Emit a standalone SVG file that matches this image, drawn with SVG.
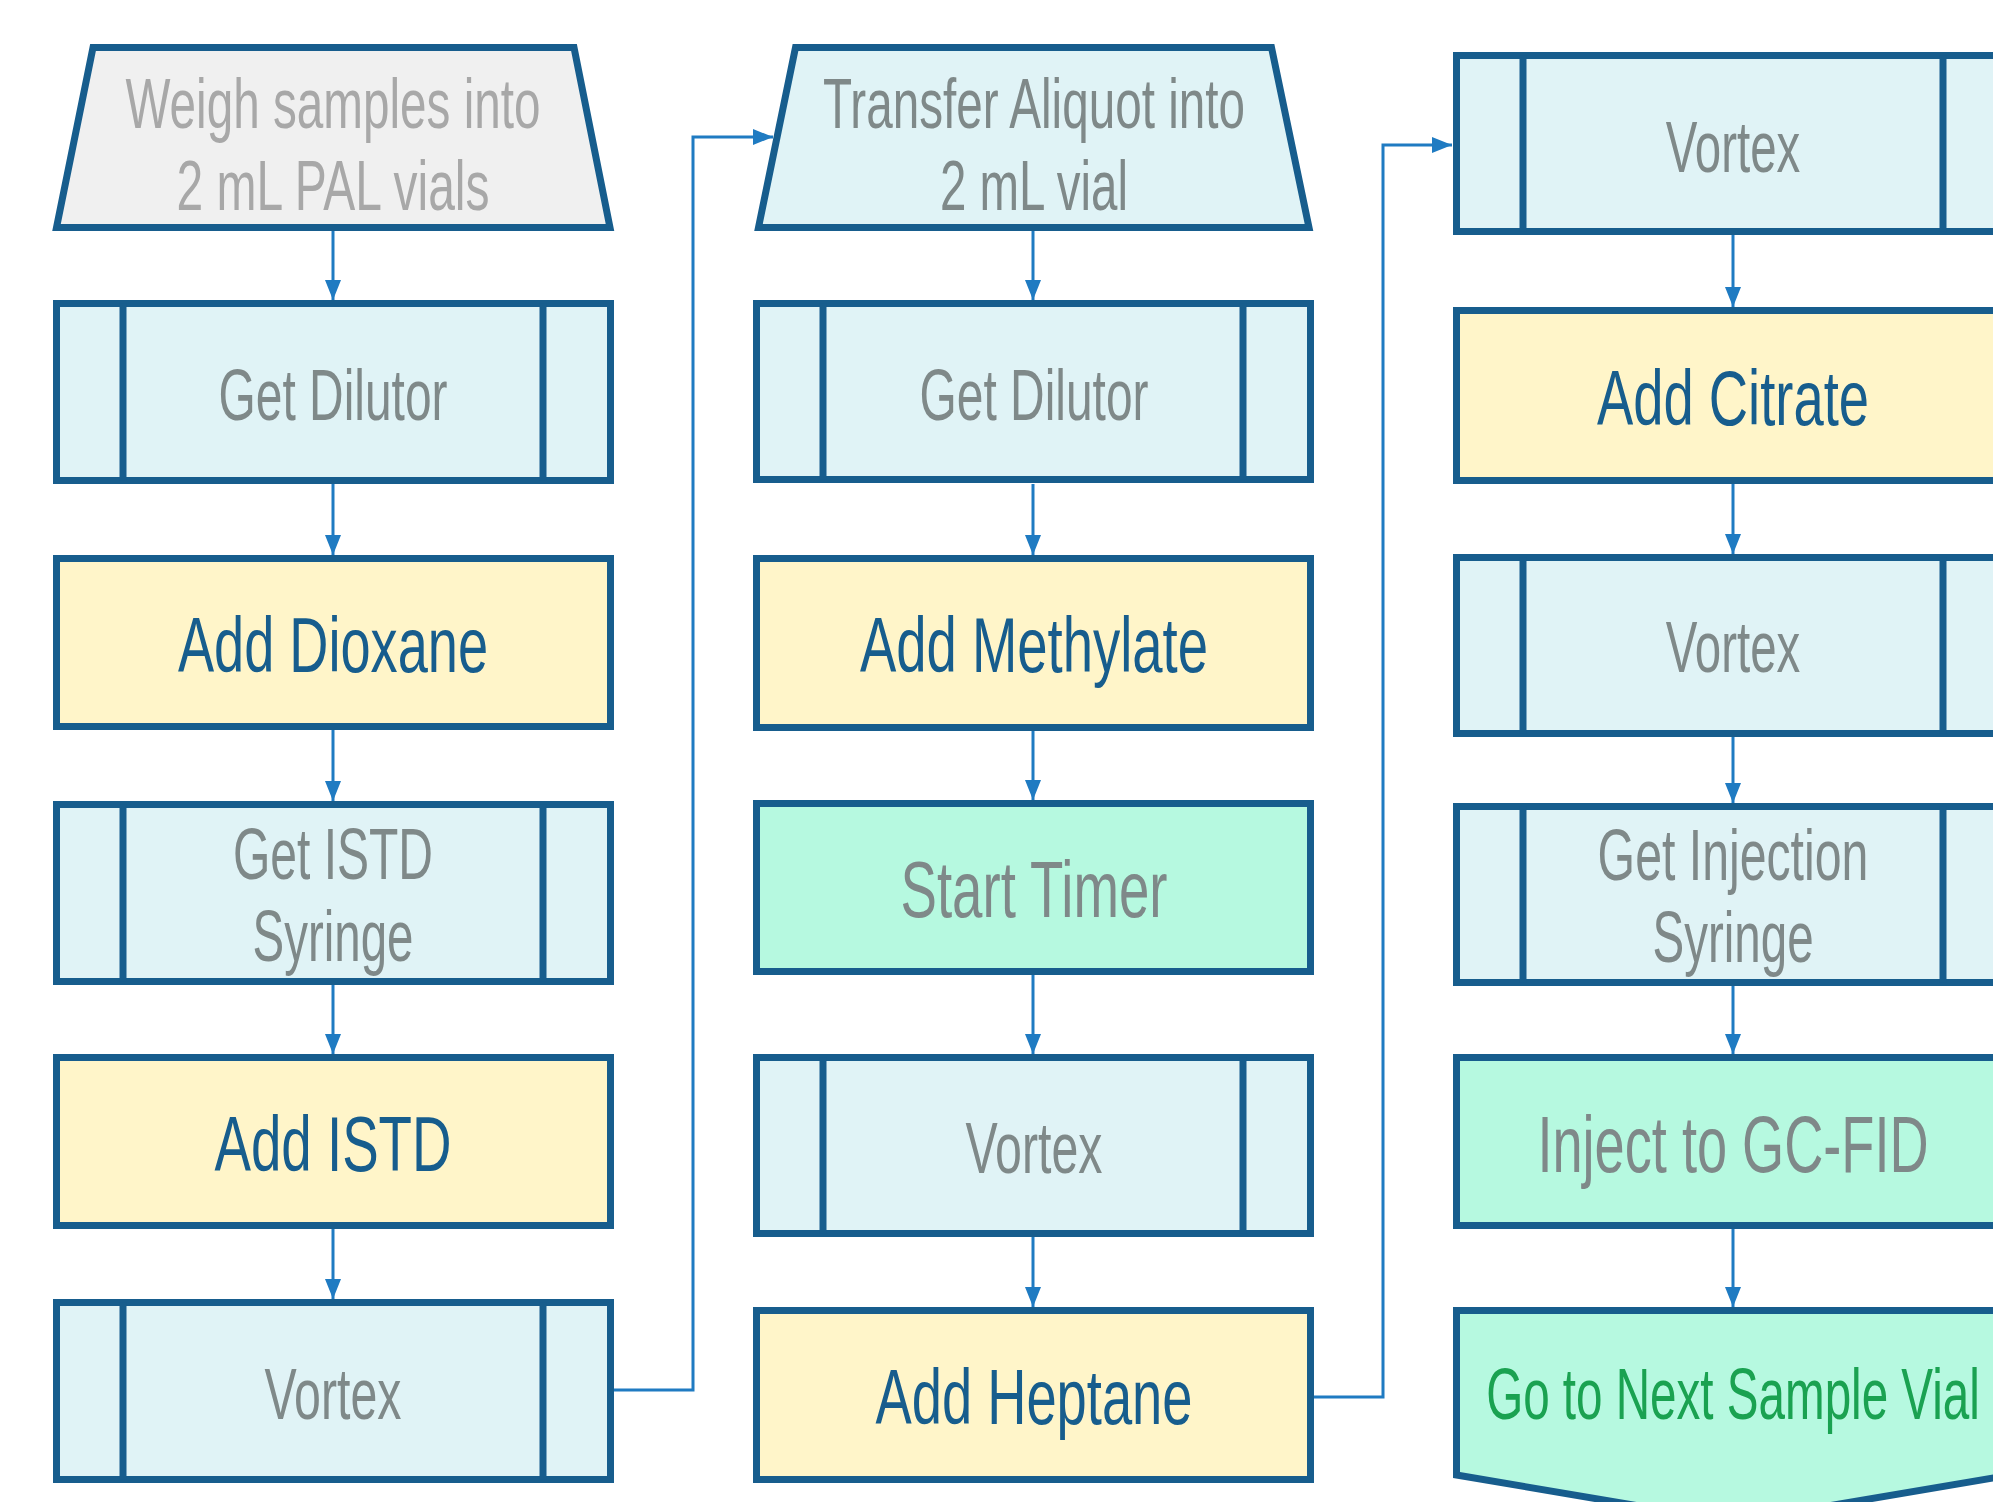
<svg xmlns="http://www.w3.org/2000/svg" width="1993" height="1502" viewBox="0 0 1993 1502">
<defs>
<style>
.box{stroke:#175d8d;stroke-width:7;stroke-linejoin:miter}
.sub{fill:#e0f3f6}
.proc{fill:#fff5c9}
.mint{fill:#b6f9e0}
.gray{fill:#f0f0f0}
.div{stroke:#175d8d;stroke-width:7;fill:none}
.conn{stroke:#1f7bc2;stroke-width:3;fill:none}
text{font-family:"Liberation Sans",Arial,sans-serif;text-anchor:middle}
.tg{fill:#7f8989;font-size:72px}
.tl{fill:#a8a8a8;font-size:70px}
.tt{fill:#7f8989;font-size:70px}
.ty{fill:#175d8d;font-size:78px}
.tm{fill:#7f8989;font-size:80px}
.tn{fill:#1aa251;font-size:72px}
</style>
<marker id="ah" viewBox="0 0 20 16" refX="20" refY="8" markerWidth="20" markerHeight="16" markerUnits="userSpaceOnUse" orient="auto">
<path d="M0,0 L20,8 L0,16 Z" fill="#1f7bc2"/>
</marker>
</defs>
<rect width="1993" height="1502" fill="#ffffff"/>

<g id="connectors">
<path class="conn" d="M333,231 V300" marker-end="url(#ah)"/>
<path class="conn" d="M333,484 V555" marker-end="url(#ah)"/>
<path class="conn" d="M333,730 V801" marker-end="url(#ah)"/>
<path class="conn" d="M333,985 V1054" marker-end="url(#ah)"/>
<path class="conn" d="M333,1229 V1299" marker-end="url(#ah)"/>
<path class="conn" d="M613,1390 H693 V137 H773" marker-end="url(#ah)"/>
<path class="conn" d="M1033,231 V300" marker-end="url(#ah)"/>
<path class="conn" d="M1033,484 V555" marker-end="url(#ah)"/>
<path class="conn" d="M1033,731 V800" marker-end="url(#ah)"/>
<path class="conn" d="M1033,975 V1054" marker-end="url(#ah)"/>
<path class="conn" d="M1033,1237 V1307" marker-end="url(#ah)"/>
<path class="conn" d="M1313,1397 H1383 V145 H1452" marker-end="url(#ah)"/>
<path class="conn" d="M1733,235 V307" marker-end="url(#ah)"/>
<path class="conn" d="M1733,484 V554" marker-end="url(#ah)"/>
<path class="conn" d="M1733,737 V803" marker-end="url(#ah)"/>
<path class="conn" d="M1733,986 V1054" marker-end="url(#ah)"/>
<path class="conn" d="M1733,1229 V1307" marker-end="url(#ah)"/>
</g>

<!-- Column 1 -->
<g id="weigh">
<polygon class="box gray" points="93,47.5 574,47.5 610,227.5 56.5,227.5"/>
<text class="tl" x="333" y="128" textLength="415" lengthAdjust="spacingAndGlyphs">Weigh samples into</text>
<text class="tl" x="333" y="210" textLength="313" lengthAdjust="spacingAndGlyphs">2 mL PAL vials</text>
</g>
<g id="get-dilutor-1">
<rect class="box sub" x="56.5" y="303.5" width="554" height="177"/>
<path class="div" d="M123,303.5 V480.5 M543,303.5 V480.5"/>
<text class="tg" x="333" y="420" textLength="229" lengthAdjust="spacingAndGlyphs">Get Dilutor</text>
</g>
<g id="add-dioxane">
<rect class="box proc" x="56.5" y="558.5" width="554" height="168"/>
<text class="ty" x="333" y="672" textLength="310" lengthAdjust="spacingAndGlyphs">Add Dioxane</text>
</g>
<g id="get-istd-syringe">
<rect class="box sub" x="56.5" y="804.5" width="554" height="177"/>
<path class="div" d="M123,804.5 V981.5 M543,804.5 V981.5"/>
<text class="tg" x="333" y="879" textLength="200" lengthAdjust="spacingAndGlyphs">Get ISTD</text>
<text class="tg" x="333" y="961" textLength="161" lengthAdjust="spacingAndGlyphs">Syringe</text>
</g>
<g id="add-istd">
<rect class="box proc" x="56.5" y="1057.5" width="554" height="168"/>
<text class="ty" x="333" y="1171" textLength="237" lengthAdjust="spacingAndGlyphs">Add ISTD</text>
</g>
<g id="vortex-1">
<rect class="box sub" x="56.5" y="1302.5" width="554" height="177"/>
<path class="div" d="M123,1302.5 V1479.5 M543,1302.5 V1479.5"/>
<text class="tg" x="333" y="1419" textLength="137" lengthAdjust="spacingAndGlyphs">Vortex</text>
</g>

<!-- Column 2 -->
<g id="transfer">
<polygon class="box sub" points="795.5,47.5 1271.5,47.5 1309,227.5 758.5,227.5"/>
<text class="tt" x="1034" y="128" textLength="422" lengthAdjust="spacingAndGlyphs">Transfer Aliquot into</text>
<text class="tt" x="1034" y="210" textLength="188" lengthAdjust="spacingAndGlyphs">2 mL vial</text>
</g>
<g id="get-dilutor-2">
<rect class="box sub" x="756.5" y="303.5" width="554" height="176"/>
<path class="div" d="M823,303.5 V479.5 M1243,303.5 V479.5"/>
<text class="tg" x="1034" y="420" textLength="229" lengthAdjust="spacingAndGlyphs">Get Dilutor</text>
</g>
<g id="add-methylate">
<rect class="box proc" x="756.5" y="558.5" width="554" height="169"/>
<text class="ty" x="1034" y="672" textLength="348" lengthAdjust="spacingAndGlyphs">Add Methylate</text>
</g>
<g id="start-timer">
<rect class="box mint" x="756.5" y="803.5" width="554" height="168"/>
<text class="tm" x="1034" y="917" textLength="267" lengthAdjust="spacingAndGlyphs">Start Timer</text>
</g>
<g id="vortex-2">
<rect class="box sub" x="756.5" y="1057.5" width="554" height="176"/>
<path class="div" d="M823,1057.5 V1233.5 M1243,1057.5 V1233.5"/>
<text class="tg" x="1034" y="1173" textLength="137" lengthAdjust="spacingAndGlyphs">Vortex</text>
</g>
<g id="add-heptane">
<rect class="box proc" x="756.5" y="1310.5" width="554" height="169"/>
<text class="ty" x="1034" y="1424" textLength="317" lengthAdjust="spacingAndGlyphs">Add Heptane</text>
</g>

<!-- Column 3 -->
<g id="vortex-3">
<rect class="box sub" x="1456.5" y="55.5" width="554" height="176"/>
<path class="div" d="M1523,55.5 V231.5 M1943,55.5 V231.5"/>
<text class="tg" transform="translate(1733 172) scale(0.659 1)">Vortex</text>
</g>
<g id="add-citrate">
<rect class="box proc" x="1456.5" y="310.5" width="554" height="170"/>
<text class="ty" transform="translate(1733 425) scale(0.697 1)">Add Citrate</text>
</g>
<g id="vortex-4">
<rect class="box sub" x="1456.5" y="557.5" width="554" height="176"/>
<path class="div" d="M1523,557.5 V733.5 M1943,557.5 V733.5"/>
<text class="tg" transform="translate(1733 672) scale(0.659 1)">Vortex</text>
</g>
<g id="get-injection-syringe">
<rect class="box sub" x="1456.5" y="806.5" width="554" height="176"/>
<path class="div" d="M1523,806.5 V982.5 M1943,806.5 V982.5"/>
<text class="tg" transform="translate(1733 880) scale(0.670 1)">Get Injection</text>
<text class="tg" transform="translate(1733 962) scale(0.660 1)">Syringe</text>
</g>
<g id="inject-gc-fid">
<rect class="box mint" x="1456.5" y="1057.5" width="554" height="168"/>
<text class="tm" transform="translate(1733 1172) scale(0.677 1)">Inject to GC-FID</text>
</g>
<g id="next-sample">
<path class="box mint" d="M1456.5,1310.5 H2010.5 V1475 L1733.5,1522 L1456.5,1475 Z"/>
<text class="tn" transform="translate(1733 1419) scale(0.661 1)">Go to Next Sample Vial</text>
</g>
</svg>
